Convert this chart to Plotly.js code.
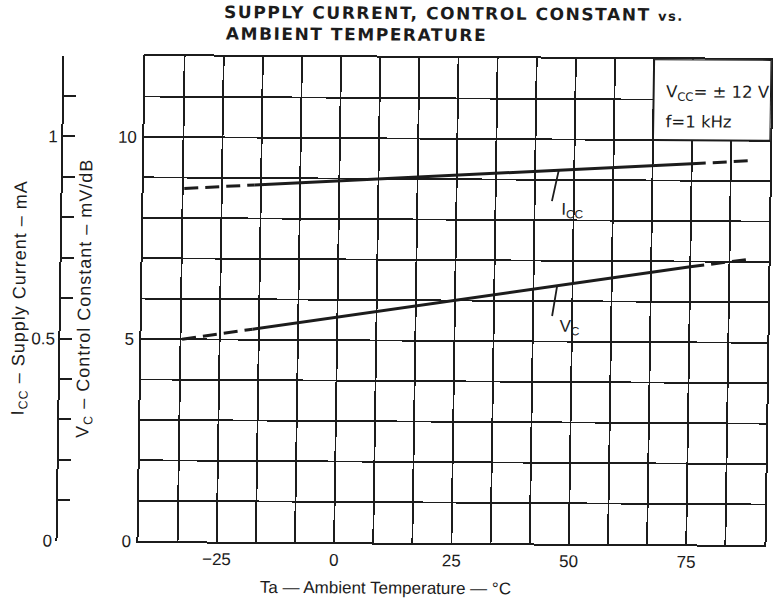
<!DOCTYPE html>
<html>
<head>
<meta charset="utf-8">
<script src="https://cdn.plot.ly/plotly-3.0.1.min.js"></script>
<style>
  html, body { margin: 0; padding: 0; background: #ffffff; overflow: hidden; }
  /* the scanned original is slightly skewed */
  #chart { width: 773px; height: 605px; transform: matrix(1, 0.0061, -0.0145, 1, 0, 0); transform-origin: 455px 300px; }
</style>
</head>
<body>
<div id="chart"></div>
<script>
// ---- data ----
// Ambient temperature (deg C)
const tempIccLow  = [-33, -18];
const tempIcc     = [-18, 0, 25, 50, 75];
const tempIccHigh = [75, 87];
// Supply current ICC (mA) - dashed / solid / dashed parts
const iccLow  = [0.873, 0.883];
const icc     = [0.883, 0.894, 0.910, 0.926, 0.942];
const iccHigh = [0.942, 0.950];

const tempVcLow  = [-33, -18];
const tempVc     = [-18, 0, 25, 50, 75];
const tempVcHigh = [75, 88];
// Control constant VC (mV/dB)
const vcLow  = [5.00, 5.26];
const vc     = [5.26, 5.57, 6.00, 6.43, 6.87];
const vcHigh = [6.87, 7.07];

// tick labels
const tempTicks = [-25, 0, 25, 50, 75];
const tempTickText = ['\u221225', '0', '25', '50', '75'];
const vcTicks = [0, 5, 10];
const vcTickText = ['0', '5', '10'];
const iccTicks = [0, 0.5, 1];
const iccTickText = ['0', '0.5', '1'];

// where the curve labels point (deg C)
const labelTemp = 46.7;

const ink = '#1c1c1c';
const gridW = 1.8;
const dashPat = '14px,7px';

function seg(x, y, axis, dash) {
  return {
    x: x, y: y, yaxis: axis, type: 'scatter', mode: 'lines',
    line: { color: ink, width: 3, dash: dash },
    hoverinfo: 'skip', showlegend: false
  };
}

function interp(xs, ys, x) {
  for (let i = 0; i < xs.length - 1; i++) {
    if (x >= xs[i] && x <= xs[i + 1]) {
      return ys[i] + (ys[i + 1] - ys[i]) * (x - xs[i]) / (xs[i + 1] - xs[i]);
    }
  }
  return ys[ys.length - 1];
}

const traces = [
  seg(tempIccLow, iccLow, 'y2', dashPat),
  seg(tempIcc, icc, 'y2', 'solid'),
  seg(tempIccHigh, iccHigh, 'y2', dashPat),
  seg(tempVcLow, vcLow, 'y', dashPat),
  seg(tempVc, vc, 'y', 'solid'),
  seg(tempVcHigh, vcHigh, 'y', dashPat)
];

const iccAtLabel = interp(tempIcc, icc, labelTemp);
const vcAtLabel = interp(tempVc, vc, labelTemp);

const tickFont = { family: 'Liberation Sans, Arial, sans-serif', size: 17, color: ink };
const titleFont = { family: 'Liberation Sans, Arial, sans-serif', size: 18, color: ink };
const boldFont = { family: 'DejaVu Sans, sans-serif', size: 17, weight: 'bold', color: ink };
const boxFont = { family: 'DejaVu Sans, sans-serif', size: 16.5, color: ink };
const curveFont = { family: 'Liberation Sans, Arial, sans-serif', size: 17, color: ink };

function spaced(t, px) { return '<span style="letter-spacing:' + px + 'px">' + t + '</span>'; }

const layout = {
  width: 773, height: 605,
  margin: { l: 60, r: 5, t: 58, b: 62 },
  paper_bgcolor: '#ffffff', plot_bgcolor: '#ffffff',
  showlegend: false,
  title: {
    text: spaced('SUPPLY CURRENT, CONTROL CONSTANT <span style="font-size:13px">vs.</span>', 1.55),
    xref: 'paper', x: 0.226, xanchor: 'left',
    yref: 'container', y: 0.9777, yanchor: 'middle',
    font: boldFont
  },
  xaxis: {
    domain: [0.1158, 1],
    range: [-41.667, 91.667],
    tickmode: 'array', tickvals: tempTicks, ticktext: tempTickText,
    ticks: '', ticklabelstandoff: 1,
    showgrid: true, gridcolor: ink, gridwidth: gridW,
    minor: { tick0: -25, dtick: 25 / 3, showgrid: true, gridcolor: ink, gridwidth: gridW, ticks: '' },
    showline: true, mirror: true, linecolor: ink, linewidth: 2,
    zeroline: false, tickfont: tickFont
  },
  yaxis: {
    range: [0, 12],
    tickmode: 'array', tickvals: vcTicks, ticktext: vcTickText,
    ticks: '', ticklabelstandoff: 2,
    showgrid: true, gridcolor: ink, gridwidth: gridW,
    minor: { tick0: 0, dtick: 1, showgrid: true, gridcolor: ink, gridwidth: gridW, ticks: '' },
    showline: true, mirror: true, linecolor: ink, linewidth: 2,
    zeroline: false, tickfont: tickFont,
    title: { text: spaced('V<sub>C</sub> \u2013 Control Constant \u2013 mV/dB', 1), font: titleFont, standoff: 20 }
  },
  yaxis2: {
    overlaying: 'y', anchor: 'free', position: 0, side: 'left',
    range: [0, 1.2000001],
    tickmode: 'array', tickvals: iccTicks, ticktext: iccTickText,
    ticks: 'inside', ticklen: 12, tickwidth: 2, tickcolor: ink,
    minor: { tick0: 0, dtick: 0.1, ticks: 'inside', ticklen: 12, tickwidth: 2, tickcolor: ink, showgrid: false },
    showgrid: false, zeroline: false,
    showline: true, linecolor: ink, linewidth: 2,
    tickfont: tickFont,
    title: { text: spaced('I<sub>CC</sub> \u2013 Supply Current \u2013 mA', 1), font: titleFont, standoff: 0 }
  },
  shapes: [
    { type: 'rect', xref: 'x', yref: 'y', x0: 200 / 3, x1: 91.667, y0: 10, y1: 12,
      fillcolor: '#ffffff', line: { color: ink, width: 2 }, layer: 'above' }
  ],
  annotations: [
    { text: spaced('AMBIENT TEMPERATURE', 1.55), xref: 'paper', yref: 'paper', x: 0.226, y: 1.0475,
      xanchor: 'left', yanchor: 'middle', showarrow: false, font: boldFont },
    // x-axis title (sits left of the plot centre in the original)
    { text: 'Ta \u2014 Ambient Temperature \u2014 \u00b0C', xref: 'paper', yref: 'paper', x: 0.466, y: -0.093,
      xanchor: 'center', yanchor: 'middle', showarrow: false,
      font: { family: 'Liberation Sans, Arial, sans-serif', size: 17, color: ink } },
    { text: 'V<sub>CC</sub>= \u00b1 12 V', xref: 'paper', yref: 'paper', x: 0.8489, y: 0.930,
      xanchor: 'left', yanchor: 'middle', showarrow: false, font: boxFont },
    { text: 'f=1 kHz', xref: 'paper', yref: 'paper', x: 0.8489, y: 0.872,
      xanchor: 'left', yanchor: 'middle', showarrow: false, font: boxFont },
    // curve labels
    { text: 'I<sub>CC</sub>', xref: 'x', yref: 'y2', x: labelTemp, y: iccAtLabel,
      showarrow: false, xshift: 14, yshift: -40, font: curveFont },
    { text: 'V<sub>C</sub>', xref: 'x', yref: 'y', x: labelTemp, y: vcAtLabel,
      showarrow: false, xshift: 13, yshift: -42, font: curveFont },
    // leader hooks
    { text: ' ', xref: 'x', yref: 'y2', x: labelTemp, y: iccAtLabel,
      showarrow: true, arrowhead: 0, arrowwidth: 1.8, arrowcolor: ink, ax: -7, ay: 34,
      font: { size: 2, color: ink } },
    { text: ' ', xref: 'x', yref: 'y', x: labelTemp, y: vcAtLabel,
      showarrow: true, arrowhead: 0, arrowwidth: 1.8, arrowcolor: ink, ax: -5, ay: 33,
      font: { size: 2, color: ink } }
  ]
};

Plotly.newPlot('chart', traces, layout, { staticPlot: true, displayModeBar: false });
</script>
</body>
</html>
